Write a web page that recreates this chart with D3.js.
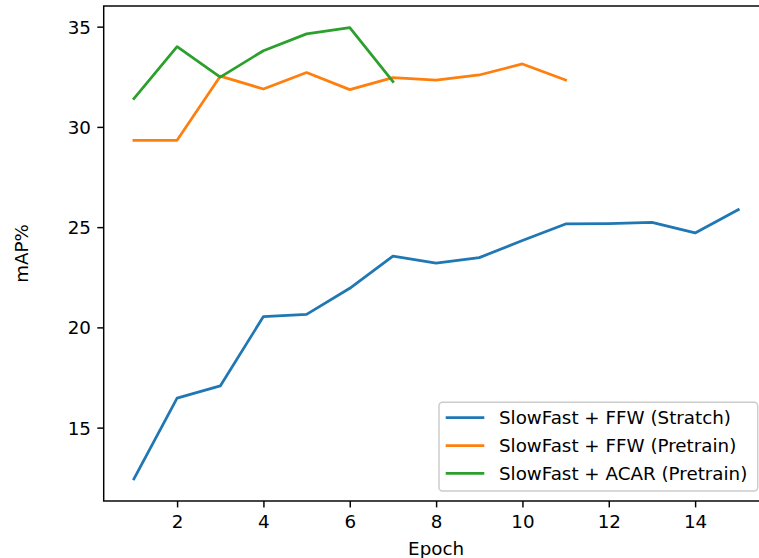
<!DOCTYPE html>
<html>
<head>
<meta charset="utf-8">
<script src="https://cdn.jsdelivr.net/npm/d3@7"></script>
<style>
  html, body { margin: 0; padding: 0; background: #fff; }
  svg { display: block; font-family: "DejaVu Sans", sans-serif; }
</style>
</head>
<body>
<svg id="chart" width="759" height="558"></svg>
<script>
// ---- data ----
const epochsStratch = [1, 2, 3, 4, 5, 6, 7, 8, 9, 10, 11, 12, 13, 14, 15];
const ffwStratch = [12.44, 16.47, 17.08, 20.54, 20.65, 21.95, 23.55, 23.21, 23.48, 24.33, 25.16, 25.18, 25.24, 24.71, 25.87];

const epochsFfwPre = [1, 2, 3, 4, 5, 6, 7, 8, 9, 10, 11];
const ffwPretrain = [29.33, 29.33, 32.53, 31.89, 32.71, 31.86, 32.46, 32.33, 32.59, 33.14, 32.34];

const epochsAcar = [1, 2, 3, 4, 5, 6, 7];
const acarPretrain = [31.41, 34.0, 32.48, 33.8, 34.64, 34.95, 32.26];

const seriesNames = ["SlowFast + FFW (Stratch)", "SlowFast + FFW (Pretrain)", "SlowFast + ACAR (Pretrain)"];
const seriesColors = ["#1f77b4", "#ff7f0e", "#2ca02c"];

const xTicks = [2, 4, 6, 8, 10, 12, 14];
const yTicks = [15, 20, 25, 30, 35];
const xLabel = "Epoch";
const yLabel = "mAP%";

// ---- layout ----
const svg = d3.select("#chart");
const W = 759, H = 558;
const plot = { left: 103.7, right: 768.5, top: 6, bottom: 501 };
const fontSize = 18.3;
const lw = 2.75;

const x = d3.scaleLinear().domain([0.3, 15.7]).range([plot.left, plot.right]);
const y = d3.scaleLinear().domain([11.34, 36.03]).range([plot.bottom, plot.top]);

const series = [
  { xs: epochsStratch, ys: ffwStratch },
  { xs: epochsFfwPre, ys: ffwPretrain },
  { xs: epochsAcar, ys: acarPretrain }
];

// clip for plot area
svg.append("defs").append("clipPath").attr("id", "clip")
  .append("rect").attr("x", plot.left).attr("y", plot.top)
  .attr("width", plot.right - plot.left).attr("height", plot.bottom - plot.top);

const line = d3.line().x(d => x(d[0])).y(d => y(d[1]));

const lines = svg.append("g").attr("clip-path", "url(#clip)");
series.forEach((s, i) => {
  lines.append("path")
    .datum(s.xs.map((e, j) => [e, s.ys[j]]))
    .attr("d", line)
    .attr("fill", "none")
    .attr("stroke", seriesColors[i])
    .attr("stroke-width", lw)
    .attr("stroke-linejoin", "round")
    .attr("stroke-linecap", "square");
});

// axes
const xAxis = d3.axisBottom(x).tickValues(xTicks).tickSize(6.4).tickPadding(6.4).tickFormat(d3.format("d"));
const yAxis = d3.axisLeft(y).tickValues(yTicks).tickSize(6.4).tickPadding(6.4).tickFormat(d3.format("d"));

const gx = svg.append("g").attr("transform", `translate(0,${plot.bottom})`).call(xAxis);
const gy = svg.append("g").attr("transform", `translate(${plot.left},0)`).call(yAxis);
[gx, gy].forEach(g => {
  g.select(".domain").remove();
  g.selectAll(".tick line").attr("stroke", "#000").attr("stroke-width", 1.46);
  g.selectAll(".tick text").attr("fill", "#000").attr("font-size", fontSize)
    .attr("font-family", "DejaVu Sans, sans-serif");
});
gx.selectAll(".tick text").attr("dy", "0.76em");
gy.selectAll(".tick text").attr("dy", "0.36em");

// spines
const spines = svg.append("g").attr("stroke", "#000").attr("stroke-width", 1.46).attr("fill", "none");
spines.append("rect")
  .attr("x", plot.left).attr("y", plot.top)
  .attr("width", plot.right - plot.left).attr("height", plot.bottom - plot.top);

// axis labels
svg.append("text")
  .attr("x", (plot.left + plot.right) / 2).attr("y", 555)
  .attr("text-anchor", "middle").attr("font-size", fontSize).attr("fill", "#000")
  .text(xLabel);
svg.append("text")
  .attr("transform", `translate(28,${(plot.top + plot.bottom) / 2}) rotate(-90)`)
  .attr("text-anchor", "middle").attr("font-size", fontSize).attr("fill", "#000")
  .text(yLabel);

// legend
const leg = svg.append("g");
leg.append("rect")
  .attr("x", 439).attr("y", 402.3).attr("width", 318.7).attr("height", 88.7)
  .attr("rx", 3.5).attr("ry", 3.5)
  .attr("fill", "#fff").attr("fill-opacity", 0.8)
  .attr("stroke", "#cccccc").attr("stroke-width", 1.46);
seriesNames.forEach((name, i) => {
  const cy = 417.7 + i * 27.8;
  leg.append("line")
    .attr("x1", 445.7).attr("x2", 484.3).attr("y1", cy).attr("y2", cy)
    .attr("stroke", seriesColors[i]).attr("stroke-width", lw);
  leg.append("text")
    .attr("x", 499).attr("y", cy).attr("dy", "0.36em")
    .attr("font-size", fontSize).attr("fill", "#000")
    .text(name);
});
</script>
</body>
</html>
